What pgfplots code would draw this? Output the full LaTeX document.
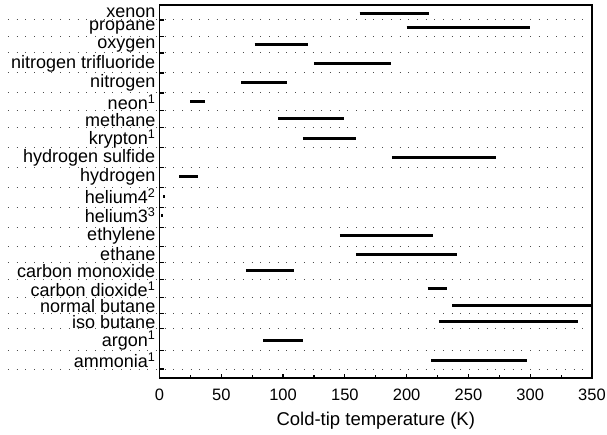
\documentclass[border=0pt]{standalone}
\usepackage{fontspec}
\setmainfont{Liberation Sans}
\usepackage{pgfplots}
\pgfplotsset{compat=1.18}

% y runs in reference pixels from the top, so rows can sit unevenly as in the original
\tikzset{
  gasbar/.style={black, line width=3pt, line cap=butt},
  griddots/.style={black!70, line width=1pt, dash pattern=on 1pt off 7.7pt}
}

\begin{document}
\begin{tikzpicture}
\begin{axis}[
    at={(0pt,0pt)}, anchor=south west,
    scale only axis, width=432.5pt, height=373pt,
    xmin=0, xmax=350, ymin=5, ymax=378, y dir=reverse,
    clip=false,
    axis line style={line width=1.5pt},
    xtick={0,50,...,350}, minor x tick num=1,
    xtick pos=left, ytick pos=left, tick align=inside,
    major tick length=4.5pt, minor tick length=3pt,
    tick style={black, line width=1.2pt},
    ytick={20,36.7,53,73,93,110.7,127.7,147.7,167.3,187.3,207.3,227.3,246.7,262.3,279.3,297.7,313.3,328.7,350.7,369},
    yticklabels={},
    extra y ticks={12.5,27.3,45.5,64,83,102,120,139,158,177,196,215,235.7,254.3,271,289,306,322,340.5,360},
    extra y tick labels={xenon,propane,oxygen,nitrogen trifluoride,nitrogen,neon\textsuperscript{1},methane,krypton\textsuperscript{1},hydrogen sulfide,hydrogen,helium4\textsuperscript{2},helium3\textsuperscript{3},ethylene,ethane,carbon monoxide,carbon dioxide\textsuperscript{1},normal butane,iso butane,argon\textsuperscript{1},ammonia\textsuperscript{1}},
    extra y tick style={major tick length=0pt},
    yticklabel style={font=\fontsize{18}{20}\selectfont, inner sep=2pt, xshift=-2pt},
    xticklabel style={font=\fontsize{16.5}{19}\selectfont, yshift=-7pt},
    /pgf/number format/assume math mode=true,
    xlabel={Cold-tip temperature (K)},
    xlabel style={font=\fontsize{18.5}{21}\selectfont, yshift=-5pt},
]
\pgfplotsinvokeforeach{20,36.7,53,73,93,110.7,127.7,147.7,167.3,187.3,207.3,227.3,246.7,262.3,279.3,297.7,313.3,328.7,350.7,369}{
  \draw[griddots] (axis cs:-122.6,#1) -- (axis cs:349,#1);
}
\addplot[gasbar] coordinates {(162,13.3) (218,13.3)};   % xenon
\addplot[gasbar] coordinates {(200,27.3) (300,27.3)};   % propane
\addplot[gasbar] coordinates {(77,45) (120,45)};        % oxygen
\addplot[gasbar] coordinates {(125,63.7) (187,63.7)};   % nitrogen trifluoride
\addplot[gasbar] coordinates {(66,83) (103,83)};        % nitrogen
\addplot[gasbar] coordinates {(25,101.7) (37,101.7)};   % neon
\addplot[gasbar] coordinates {(96,119) (149,119)};      % methane
\addplot[gasbar] coordinates {(116,138.3) (159,138.3)}; % krypton
\addplot[gasbar] coordinates {(188,157.7) (272,157.7)}; % hydrogen sulfide
\addplot[gasbar] coordinates {(16,177) (31,177)};       % hydrogen
\addplot[gasbar] coordinates {(3.2,196.7) (4.8,196.7)}; % helium4
\addplot[gasbar] coordinates {(1.6,216) (3.0,216)};     % helium3
\addplot[gasbar] coordinates {(146,235.7) (221,235.7)}; % ethylene
\addplot[gasbar] coordinates {(159,254.3) (241,254.3)}; % ethane
\addplot[gasbar] coordinates {(70,270.3) (109,270.3)};  % carbon monoxide
\addplot[gasbar] coordinates {(217,288.3) (233,288.3)}; % carbon dioxide
\addplot[gasbar] coordinates {(237,305) (350,305)};     % normal butane
\addplot[gasbar] coordinates {(226,321) (339,321)};     % iso butane
\addplot[gasbar] coordinates {(84,340) (116,340)};      % argon
\addplot[gasbar] coordinates {(220,360) (297,360)};     % ammonia
\end{axis}
\pgfresetboundingbox
\path (-159.5pt,-57pt) rectangle (447.5pt,378pt);
\end{tikzpicture}
\end{document}
